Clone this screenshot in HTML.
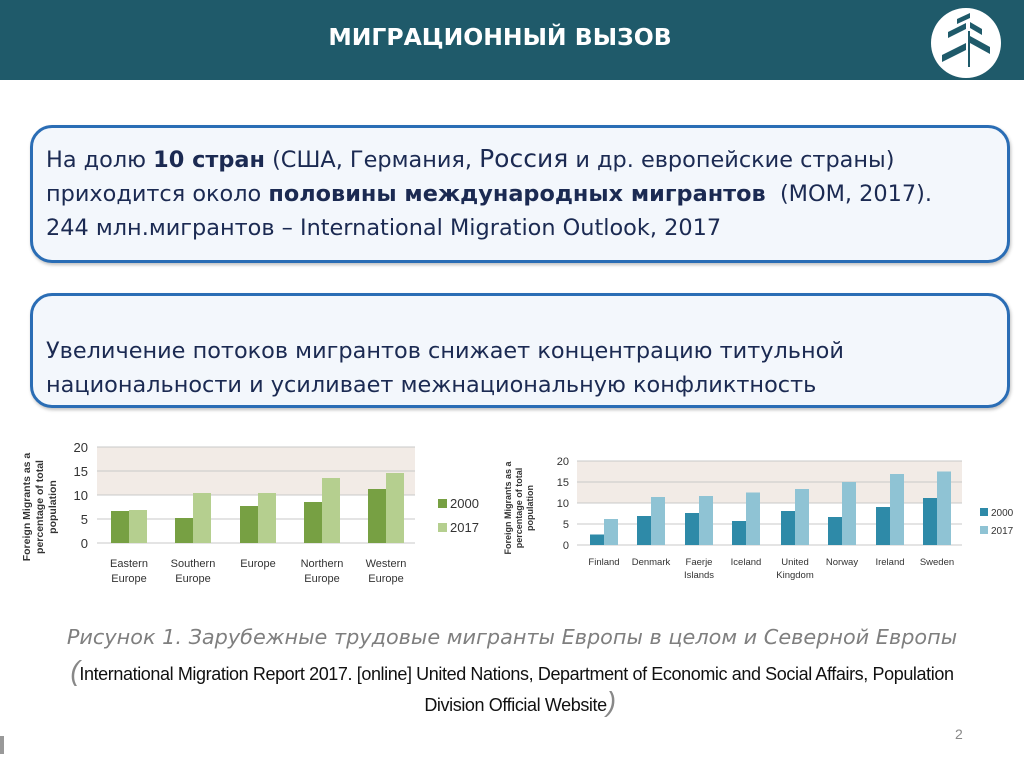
<!DOCTYPE html>
<html><head><meta charset="utf-8"><style>
body{margin:0;width:1024px;height:767px;position:relative;background:#fff;font-family:"Liberation Sans",sans-serif;overflow:hidden}
.hdr{position:absolute;left:0;top:0;width:1024px;height:80px;background:#1f5a6a}
.hdr h1{position:absolute;left:0;width:1000px;top:23px;margin:0;text-align:center;color:#fff;font-size:23.5px;font-weight:bold;font-family:"DejaVu Sans",sans-serif;letter-spacing:0}
.box{position:absolute;left:30px;width:980px;border:3px solid #2a6db5;border-radius:22px;background:#f3f7fc;box-shadow:1px 2px 3px rgba(0,0,0,.25);color:#1b2a52;font-family:"DejaVu Sans",sans-serif;font-size:22.4px;line-height:34px;box-sizing:border-box;white-space:nowrap}
.cap{position:absolute;left:0;width:1024px;text-align:center;white-space:nowrap}
</style></head><body>
<div class="hdr"><h1>МИГРАЦИОННЫЙ ВЫЗОВ</h1>
<svg style="position:absolute;left:930px;top:7px" width="72" height="72" viewBox="0 0 72 72"><circle cx="36" cy="36" r="35" fill="#fff"/>
<g fill="#1f5a6a"><polygon points="27,12 40,6 40,11 27,17"/><polygon points="18,25 36,16 36,22 18,31"/><polygon points="40,15 52,22 52,28 40,21"/><polygon points="12,48 36,36 36,43 12,55"/><polygon points="40,29 60,40 60,47 40,36"/><polygon points="38,24 40,24 40,60 38,60"/></g></svg>
</div>
<div class="box" style="top:125px;height:138px;padding:14px 0 0 13px">На долю <b>10 стран</b> (США, Германия, <span style="font-size:25px">Россия</span> и др. европейские страны)<br>приходится около <b>половины международных мигрантов</b> &nbsp;(МОМ, 2017).<br>244 млн.мигрантов – International Migration Outlook, 2017</div>
<div class="box" style="top:293px;height:115px;padding:38px 0 0 13px">Увеличение потоков мигрантов снижает концентрацию титульной<br>национальности и усиливает межнациональную конфликтность</div>

<svg style="position:absolute;left:0;top:0" width="1024" height="767" font-family="Liberation Sans,sans-serif">
<rect x="97" y="447" width="318" height="48" fill="#f2ebe6"/>
<g stroke="#c8c8c8" stroke-width="1"><line x1="97" y1="447" x2="415" y2="447"/><line x1="97" y1="471" x2="415" y2="471"/><line x1="97" y1="495" x2="415" y2="495"/><line x1="97" y1="519" x2="415" y2="519"/><line x1="97" y1="543" x2="415" y2="543"/></g>
<g font-size="13" fill="#333" text-anchor="end"><text x="88" y="452">20</text><text x="88" y="476">15</text><text x="88" y="500">10</text><text x="88" y="524">5</text><text x="88" y="548">0</text></g>
<g fill="#77a043"><rect x="111" y="511" width="18" height="32"/><rect x="175" y="518" width="18" height="25"/><rect x="240" y="506" width="18" height="37"/><rect x="304" y="502" width="18" height="41"/><rect x="368" y="489" width="18" height="54"/></g>
<g fill="#b5cf8f"><rect x="129" y="510" width="18" height="33"/><rect x="193" y="493" width="18" height="50"/><rect x="258" y="493" width="18" height="50"/><rect x="322" y="478" width="18" height="65"/><rect x="386" y="473" width="18" height="70"/></g>
<g font-size="11" fill="#333" text-anchor="middle"><text x="129" y="567">Eastern</text><text x="129" y="582">Europe</text><text x="193" y="567">Southern</text><text x="193" y="582">Europe</text><text x="258" y="567">Europe</text><text x="322" y="567">Northern</text><text x="322" y="582">Europe</text><text x="386" y="567">Western</text><text x="386" y="582">Europe</text></g>
<rect x="438" y="499" width="9" height="9" fill="#77a043"/><text x="450" y="508" font-size="13" fill="#333">2000</text>
<rect x="438" y="523" width="9" height="9" fill="#b5cf8f"/><text x="450" y="532" font-size="13" fill="#333">2017</text>
<g font-size="10.5" font-weight="bold" fill="#333" text-anchor="middle"><text transform="translate(30,507) rotate(-90)">Foreign Migrants as a</text><text transform="translate(43,507) rotate(-90)">percentage of total</text><text transform="translate(56,507) rotate(-90)">population</text></g>

<rect x="577" y="461" width="385" height="42" fill="#f2ebe6"/>
<g stroke="#c8c8c8" stroke-width="1"><line x1="577" y1="461" x2="962" y2="461"/><line x1="577" y1="482" x2="962" y2="482"/><line x1="577" y1="503" x2="962" y2="503"/><line x1="577" y1="524" x2="962" y2="524"/><line x1="577" y1="545" x2="962" y2="545"/></g>
<g font-size="11" fill="#333" text-anchor="end"><text x="569" y="465">20</text><text x="569" y="486">15</text><text x="569" y="507">10</text><text x="569" y="528">5</text><text x="569" y="549">0</text></g>
<g fill="#2e8aa8"><rect x="590" y="534.5" width="14" height="10.5"/><rect x="637" y="516" width="14" height="29"/><rect x="685" y="513" width="14" height="32"/><rect x="732" y="521" width="14" height="24"/><rect x="781" y="511" width="14" height="34"/><rect x="828" y="517" width="14" height="28"/><rect x="876" y="507" width="14" height="38"/><rect x="923" y="498" width="14" height="47"/></g>
<g fill="#8fc3d4"><rect x="604" y="519" width="14" height="26"/><rect x="651" y="497" width="14" height="48"/><rect x="699" y="496" width="14" height="49"/><rect x="746" y="492.5" width="14" height="52.5"/><rect x="795" y="489" width="14" height="56"/><rect x="842" y="482" width="14" height="63"/><rect x="890" y="474" width="14" height="71"/><rect x="937" y="471.5" width="14" height="73.5"/></g>
<g font-size="9.5" fill="#333" text-anchor="middle"><text x="604" y="565">Finland</text><text x="651" y="565">Denmark</text><text x="699" y="565">Faerje</text><text x="699" y="578">Islands</text><text x="746" y="565">Iceland</text><text x="795" y="565">United</text><text x="795" y="578">Kingdom</text><text x="842" y="565">Norway</text><text x="890" y="565">Ireland</text><text x="937" y="565">Sweden</text></g>
<rect x="980" y="508" width="8" height="8" fill="#2e8aa8"/><text x="991" y="516" font-size="10" fill="#333">2000</text>
<rect x="980" y="526" width="8" height="8" fill="#8fc3d4"/><text x="991" y="534" font-size="10" fill="#333">2017</text>
<g font-size="9" font-weight="bold" fill="#333" text-anchor="middle"><text transform="translate(511,508) rotate(-90)">Foreign Migrants as a</text><text transform="translate(522,508) rotate(-90)">percentage of total</text><text transform="translate(533,508) rotate(-90)">population</text></g>
<rect x="0" y="736" width="4" height="18" fill="#999"/>
</svg>

<div class="cap" style="top:625px;font-family:'DejaVu Sans',sans-serif;font-style:italic;font-size:20.8px;color:#7f7f7f">Рисунок 1. Зарубежные трудовые мигранты Европы в целом и Северной Европы</div>
<div class="cap" style="top:655px;font-size:18px;color:#111;letter-spacing:-0.4px;left:0px"><span style="font-size:28px;color:#888;font-weight:100;font-style:italic">(</span>International Migration Report 2017. [online] United Nations, Department of Economic and Social Affairs, Population</div>
<div class="cap" style="top:686px;font-size:18px;color:#111;letter-spacing:-0.4px;left:8px">Division Official Website<span style="font-size:28px;color:#888;font-style:italic">)</span></div>
<div style="position:absolute;left:955px;top:726px;font-size:14px;color:#888">2</div>
</body></html>
